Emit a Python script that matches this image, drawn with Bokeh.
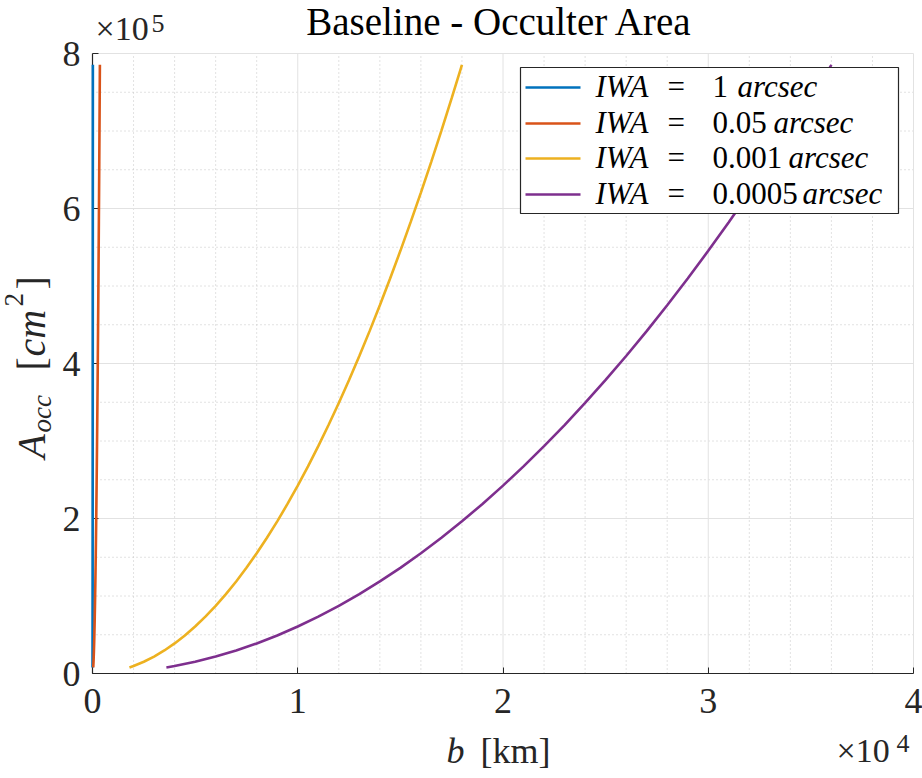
import math
from bokeh.plotting import figure
from bokeh.models import FixedTicker, Label, BoxAnnotation, Range1d
from bokeh.embed import file_html
from bokeh.resources import INLINE

# ---------------- data ----------------
series_labels = ["1", "0.05", "0.001", "0.0005"]
series_colors = ["#0072BD", "#D95319", "#EDB120", "#7E2F8E"]

A_occ = [7854, 9696, 15150, 21816, 29694, 38784, 49086, 60600, 73326, 87264,
         102414, 118776, 136350, 155136, 175134, 196344, 218766, 242400,
         267246, 293304, 320574, 349056, 378750, 409656, 441774, 475104,
         509646, 545400, 582366, 620544, 659934, 700536, 742350, 785376]
b_iwa_1 = [1.8, 2, 2.5, 3, 3.5, 4, 4.5, 5, 5.5, 6, 6.5, 7, 7.5, 8, 8.5, 9,
           9.5, 10, 10.5, 11, 11.5, 12, 12.5, 13, 13.5, 14, 14.5, 15, 15.5,
           16, 16.5, 17, 17.5, 18]
b_iwa_005 = [36, 40, 50, 60, 70, 80, 90, 100, 110, 120, 130, 140, 150, 160,
             170, 180, 190, 200, 210, 220, 230, 240, 250, 260, 270, 280, 290,
             300, 310, 320, 330, 340, 350, 360]
b_iwa_0001 = [1800, 2000, 2500, 3000, 3500, 4000, 4500, 5000, 5500, 6000,
              6500, 7000, 7500, 8000, 8500, 9000, 9500, 10000, 10500, 11000,
              11500, 12000, 12500, 13000, 13500, 14000, 14500, 15000, 15500,
              16000, 16500, 17000, 17500, 18000]
b_iwa_00005 = [3600, 4000, 5000, 6000, 7000, 8000, 9000, 10000, 11000, 12000,
               13000, 14000, 15000, 16000, 17000, 18000, 19000, 20000, 21000,
               22000, 23000, 24000, 25000, 26000, 27000, 28000, 29000, 30000,
               31000, 32000, 33000, 34000, 35000, 36000]

x_ticks = [0, 10000, 20000, 30000, 40000]
x_tick_labels = ["0", "1", "2", "3", "4"]
y_ticks = [0, 200000, 400000, 600000, 800000]
y_tick_labels = ["0", "2", "4", "6", "8"]
x_minor_step = 2000
y_minor_step = 50000

# ---------------- layout ----------------
W, H = 922, 778
FL, FR, FT, FB = 92, 913, 53, 673
XMAX, YMAX = 40000, 800000
FONT = "Liberation Serif"
DARK = "#262626"


def dx(px):
    return (px - FL) / (FR - FL) * XMAX


def dy(py):
    return (FB - py) / (FB - FT) * YMAX


# the frame covers the whole canvas; the axes sit at fixed data locations
p = figure(width=W, height=H, output_backend="svg", toolbar_location=None,
           x_range=Range1d(dx(0), dx(W)), y_range=Range1d(dy(H), dy(0)),
           min_border_left=0, min_border_right=0,
           min_border_top=0, min_border_bottom=0)
p.outline_line_color = None
p.background_fill_color = "white"
p.border_fill_color = "white"
p.xgrid.visible = False
p.ygrid.visible = False

# grid (drawn from the tick arrays, limited to the axes box)
x_minor = [v for v in range(0, XMAX + 1, x_minor_step) if v not in x_ticks]
y_minor = [v for v in range(0, YMAX + 1, y_minor_step) if v not in y_ticks]
p.segment(x0=x_minor, y0=[0] * len(x_minor), x1=x_minor, y1=[YMAX] * len(x_minor),
          line_color="#c4c4c4", line_width=1, line_dash="1 3")
p.segment(x0=[0] * len(y_minor), y0=y_minor, x1=[XMAX] * len(y_minor), y1=y_minor,
          line_color="#c4c4c4", line_width=1, line_dash="1 3")
p.segment(x0=x_ticks, y0=[0] * len(x_ticks), x1=x_ticks, y1=[YMAX] * len(x_ticks),
          line_color="#e2e2e2", line_width=1)
p.segment(x0=[0] * len(y_ticks), y0=y_ticks, x1=[XMAX] * len(y_ticks), y1=y_ticks,
          line_color="#e2e2e2", line_width=1)

for b, col in zip([b_iwa_1, b_iwa_005, b_iwa_0001, b_iwa_00005], series_colors):
    p.line(b, A_occ, line_color=col, line_width=2.6, level="annotation")

# axes
p.xaxis.ticker = FixedTicker(ticks=x_ticks, minor_ticks=[])
p.yaxis.ticker = FixedTicker(ticks=y_ticks, minor_ticks=[])
p.xaxis.major_label_overrides = dict(zip(x_ticks, x_tick_labels))
p.yaxis.major_label_overrides = dict(zip(y_ticks, y_tick_labels))
p.xaxis.fixed_location = 0
p.yaxis.fixed_location = 0
p.xaxis.bounds = (0, XMAX)
p.yaxis.bounds = (0, YMAX)
for ax in (p.xaxis, p.yaxis):
    ax.axis_line_color = DARK
    ax.axis_line_width = 1.2
    ax.major_tick_line_color = DARK
    ax.major_tick_in = 6
    ax.major_tick_out = 0
    ax.minor_tick_in = 0
    ax.minor_tick_out = 0
    ax.major_label_text_font = FONT
    ax.major_label_text_font_size = "36px"
    ax.major_label_text_color = DARK
p.xaxis.major_label_standoff = 15
p.yaxis.major_label_standoff = 12


def add_text(text, px, py, size, style="normal", color=DARK, align="left", angle=0.0):
    """px, py: left end of the text baseline (for rotated text, px is the baseline)."""
    shift = 0.36 * size
    if angle == 0.0:
        py = py - shift
    else:
        px = px - shift
    p.add_layout(Label(x=dx(px), y=dy(py), text=text, text_font=FONT,
                       text_font_size=f"{size}px", text_font_style=style,
                       text_color=color, text_align=align,
                       text_baseline="alphabetic", angle=angle))


# title
add_text("Baseline - Occulter Area", 499, 35, 39, color="black", align="center")

# exponent labels
add_text("\u00d710", 95, 40, 34)
add_text("5", 151, 32, 26)
add_text("\u00d710", 836, 762, 34)
add_text("4", 896, 752, 26)

# x label
add_text("b", 446, 763, 36, style="italic")
add_text("[km]", 480, 763, 36)

# y label (rotated, reading upwards)
r = math.pi / 2
add_text("A", 45, 458, 40, style="italic", angle=r)
add_text("occ", 51, 432, 27, style="italic", angle=r)
add_text("[", 45, 370, 40, angle=r)
add_text("cm", 45, 356, 40, style="italic", angle=r)
add_text("2", 23, 306, 27, angle=r)
add_text("]", 45, 289, 40, angle=r)

# legend
p.add_layout(BoxAnnotation(left=dx(520), right=dx(898), top=dy(67), bottom=dy(213),
                           fill_color="white", fill_alpha=1.0,
                           line_color=DARK, line_width=1.2, line_alpha=1.0))
row_y = [87, 123, 158, 194]
arc_x = [737, 773, 788, 802]
for lab, col, ry, ax_ in zip(series_labels, series_colors, row_y, arc_x):
    p.add_layout(BoxAnnotation(left=dx(525), right=dx(580), top=dy(ry - 1.3),
                               bottom=dy(ry + 1.3), fill_color=col, fill_alpha=1.0,
                               line_color=None))
    base = ry + 10
    add_text("IWA", 595, base, 31, style="italic", color="black")
    add_text("=", 667, base, 31, color="black")
    add_text(lab, 712, base, 31, color="black")
    add_text("arcsec", ax_, base, 31, style="italic", color="black")

open("out.html", "w").write(file_html(p, INLINE))
